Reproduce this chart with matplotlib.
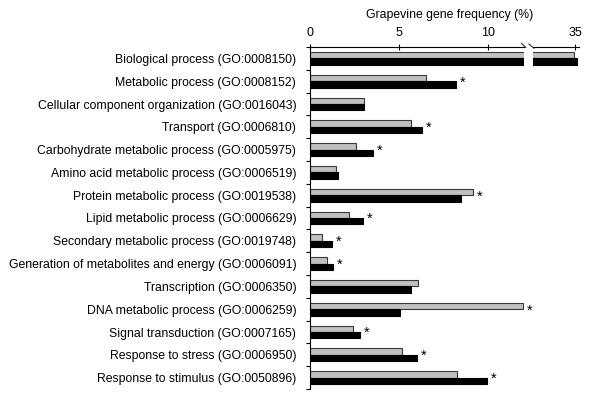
import numpy as np
import matplotlib
matplotlib.use("Agg")
import matplotlib.pyplot as plt

plt.rcParams['font.family'] = ['Liberation Sans', 'DejaVu Sans']

categories = [
    "Biological process (GO:0008150)",
    "Metabolic process (GO:0008152)",
    "Cellular component organization (GO:0016043)",
    "Transport (GO:0006810)",
    "Carbohydrate metabolic process (GO:0005975)",
    "Amino acid metabolic process (GO:0006519)",
    "Protein metabolic process (GO:0019538)",
    "Lipid metabolic process (GO:0006629)",
    "Secondary metabolic process (GO:0019748)",
    "Generation of metabolites and energy (GO:0006091)",
    "Transcription (GO:0006350)",
    "DNA metabolic process (GO:0006259)",
    "Signal transduction (GO:0007165)",
    "Response to stress (GO:0006950)",
    "Response to stimulus (GO:0050896)",
]
grey_vals = [34.9, 6.48, 3.0, 5.66, 2.59, 1.43, 9.13, 2.2, 0.69, 0.93, 6.07, 11.95, 2.4, 5.16, 8.23]
black_vals = [35.1, 8.16, 3.03, 6.26, 3.52, 1.55, 8.47, 2.96, 1.21, 1.29, 5.66, 5.03, 2.78, 6.0, 9.91]
starred = [False, True, False, True, True, False, True, True, True, True, False, True, True, True, True]

left_ticks = [0, 5, 10]
right_ticks = [35]
break_at = 12.0

y = np.arange(len(categories))
h = 0.28
grey_col = "#c0c0c0"

fig = plt.figure(figsize=(6, 4), dpi=100)
ax1 = fig.add_axes([0.5167, 0.0275, 0.3567, 0.855])
ax2 = fig.add_axes([0.8878, 0.0275, 0.0772, 0.855])

for ax in (ax1, ax2):
    ax.barh(y - h / 2, grey_vals, height=h, color=grey_col, edgecolor="#3a3a3a", linewidth=0.8)
    ax.barh(y + h / 2, black_vals, height=h, color="black", edgecolor="black", linewidth=0.8)
    ax.set_ylim(len(categories) - 0.5, -0.5)
    ax.xaxis.tick_top()
    ax.spines['right'].set_visible(False)
    ax.spines['bottom'].set_visible(False)
    ax.tick_params(axis='x', direction='inout', length=4, labelsize=9, pad=4, width=0.8)

ax1.set_xlim(0, break_at)
ax2.set_xlim(32.6, 35.2)
ax1.set_xticks(left_ticks)
ax2.set_xticks(right_ticks)
ax2.spines['left'].set_visible(False)
ax2.set_yticks([])

ax1.set_yticks(y)
ax1.set_yticklabels(categories, fontsize=8.85)
ax1.set_yticks(np.arange(len(categories) + 1) - 0.5, minor=True)
ax1.tick_params(axis='y', which='major', length=0, pad=10)
ax1.tick_params(axis='y', which='minor', direction='out', length=3, width=0.8)

# significance stars
for i, s in enumerate(starred):
    if s:
        xm = max(grey_vals[i], black_vals[i])
        ax1.text(min(xm, break_at) + 0.38, y[i] + 0.05, "*", fontsize=10.5,
                 ha='center', va='center')

# break marks on the top axis
d = 0.012
kw = dict(color='#333333', lw=0.8, clip_on=False)
ax1.plot([1 - 0.012, 1 + 0.008], [1 + d * 0.9, 1 - d * 0.1], transform=ax1.transAxes, **kw)
ax2.plot([-0.08, 0.03], [1 + d * 0.7, 1 - d * 0.3], transform=ax2.transAxes, **kw)

fig.text(0.75, 0.963, "Grapevine gene frequency (%)", ha='center', va='center', fontsize=8.85)

fig.savefig("out.png", dpi=100)
